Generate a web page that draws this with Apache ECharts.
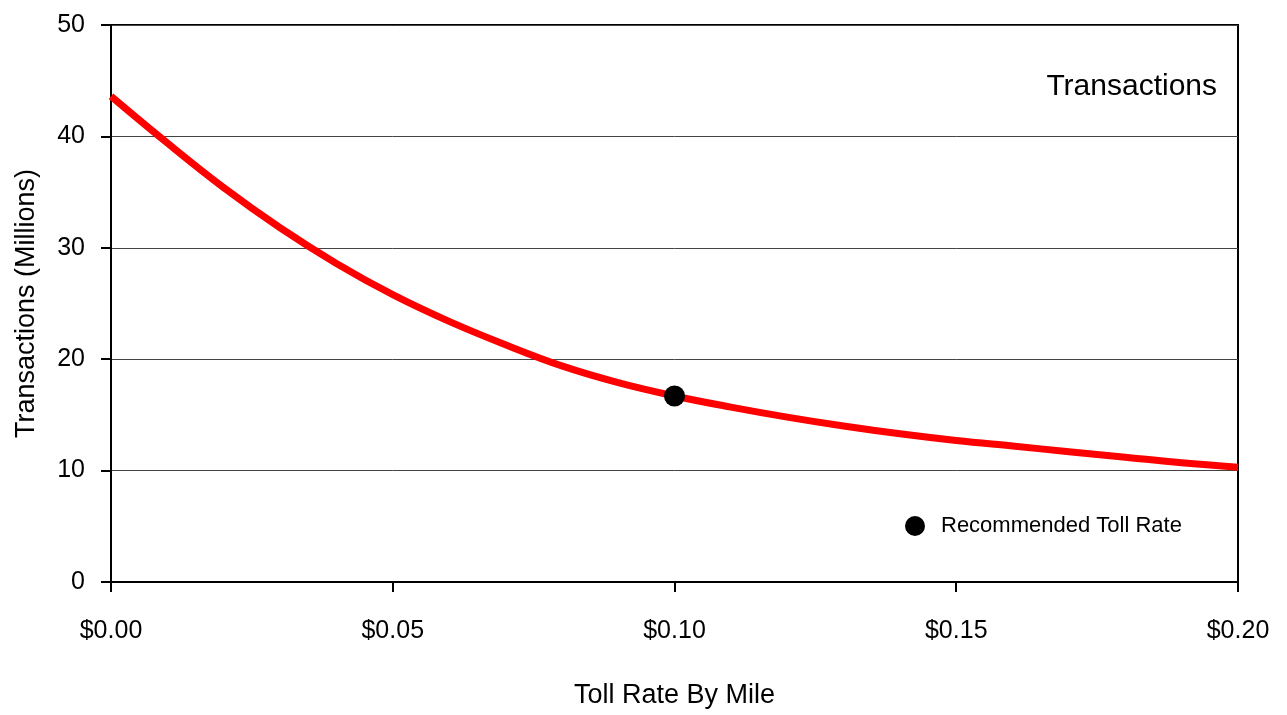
<!DOCTYPE html>
<html>
<head>
<meta charset="utf-8">
<title>Transactions by Toll Rate</title>
<script src="https://cdn.jsdelivr.net/npm/echarts@6/dist/echarts.min.js"></script>
<style>
  html, body { margin: 0; padding: 0; background: #fff; }
  #chart { width: 1287px; height: 715px; }
</style>
</head>
<body>
<div id="chart"></div>
<script>
// Toll rate per mile (dollars) and annual transactions (millions)
const tollRates = [0.00, 0.01, 0.02, 0.03, 0.04, 0.05, 0.06, 0.07, 0.08, 0.09, 0.10,
                   0.11, 0.12, 0.13, 0.14, 0.15, 0.16, 0.17, 0.18, 0.19, 0.20];
const transactions = [43.6, 39.4, 35.4, 31.8, 28.6, 25.8, 23.4, 21.3, 19.4, 17.9, 16.7,
                      15.7, 14.8, 14.0, 13.3, 12.7, 12.2, 11.7, 11.2, 10.7, 10.3];
const recommendedRate = [0.10];
const recommendedTransactions = [16.7];
const yTicks = [0, 10, 20, 30, 40, 50];

const FONT = '"Liberation Sans Narrow", "Arial Narrow", "Liberation Sans", Arial, sans-serif';

const chart = echarts.init(document.getElementById('chart'));
chart.setOption({
  animation: false,
  backgroundColor: '#ffffff',
  textStyle: { fontFamily: FONT },
  title: {
    text: 'Transactions',
    right: 65,
    top: 67,
    textStyle: { fontFamily: FONT, fontSize: 30, fontWeight: 'normal', color: '#000' }
  },
  legend: {
    data: [{ name: 'Recommended Toll Rate', icon: 'circle' }],
    left: 900,
    top: 510,
    itemWidth: 20,
    itemHeight: 20,
    textStyle: { fontFamily: FONT, fontSize: 22, color: '#000', padding: [0, 0, 0, 11] }
  },
  grid: {
    left: 111, right: 49, top: 25, bottom: 133,
    outerBoundsMode: 'none',
    containLabel: false,
    show: true, borderColor: '#000', borderWidth: 2, backgroundColor: 'transparent'
  },
  xAxis: {
    type: 'value',
    min: 0, max: 0.2, interval: 0.05,
    name: 'Toll Rate By Mile',
    nameLocation: 'middle',
    nameGap: 100,
    nameTextStyle: { fontFamily: FONT, fontSize: 27, color: '#000' },
    axisLine: { show: true, lineStyle: { color: '#000', width: 2 } },
    axisTick: { show: true, length: 10, lineStyle: { color: '#000', width: 2 } },
    axisLabel: {
      margin: 37, fontFamily: FONT, fontSize: 25, color: '#000',
      formatter: v => '$' + v.toFixed(2)
    },
    splitLine: { show: false }
  },
  yAxis: {
    type: 'value',
    min: yTicks[0], max: yTicks[yTicks.length - 1], interval: 10,
    name: 'Transactions (Millions)',
    nameLocation: 'middle',
    nameGap: 71,
    nameTextStyle: { fontFamily: FONT, fontSize: 27, color: '#000' },
    axisLine: { show: true, lineStyle: { color: '#000', width: 2 } },
    axisTick: { show: true, length: 10, lineStyle: { color: '#000', width: 2 } },
    axisLabel: { margin: 26, fontFamily: FONT, fontSize: 25, color: '#000' },
    splitLine: { show: true, lineStyle: { color: '#444', width: 1 } }
  },
  series: [
    {
      name: 'Transactions',
      type: 'line',
      smooth: 0.4,
      showSymbol: false,
      data: tollRates.map((r, i) => [r, transactions[i]]),
      lineStyle: { color: '#ff0000', width: 7 },
      itemStyle: { color: '#ff0000' },
      z: 3
    },
    {
      name: 'Recommended Toll Rate',
      type: 'scatter',
      symbol: 'circle',
      symbolSize: 21,
      data: recommendedRate.map((r, i) => [r, recommendedTransactions[i]]),
      itemStyle: { color: '#000', opacity: 1 },
      z: 4
    }
  ]
});
</script>
</body>
</html>
